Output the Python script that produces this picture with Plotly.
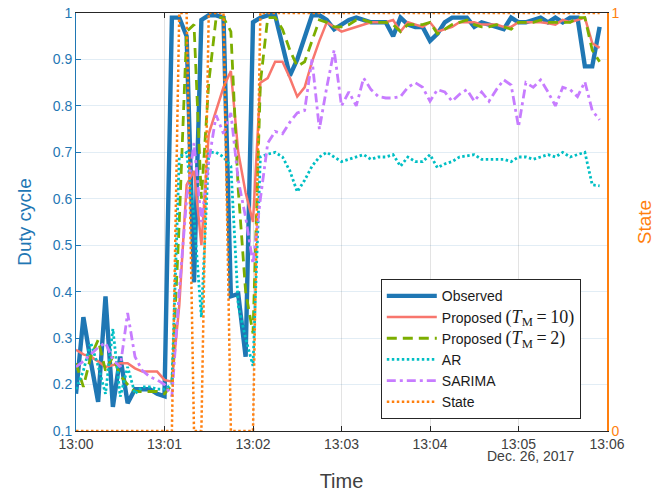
import pandas as pd
import plotly.graph_objects as go

# 5-second samples from 13:00:00 (Dec. 26, 2017)
times = pd.date_range("2017-12-26 13:00:00", periods=72, freq="5s")

observed = [0.18, 0.345, 0.25, 0.163, 0.39, 0.152, 0.26, 0.16, 0.19, 0.19, 0.19, 0.18, 0.175,
            0.99, 0.99, 0.95, 0.42, 0.985, 0.995, 0.995, 0.99, 0.39, 0.395, 0.26, 0.98, 0.99,
            0.995, 0.995, 0.93, 0.865, 0.9, 0.95, 0.995, 0.995, 0.985, 0.965, 0.975, 0.985,
            0.99, 0.985, 0.98, 0.98, 0.98, 0.95, 0.99, 0.975, 0.97, 0.97, 0.94, 0.955, 0.98,
            0.99, 0.99, 0.99, 0.97, 0.98, 0.975, 0.97, 0.965, 0.99, 0.98, 0.98, 0.985, 0.99,
            0.98, 0.99, 0.98, 0.99, 0.99, 0.885, 0.885, 0.97]

proposed_10 = [0.275, 0.265, 0.26, 0.25, 0.238, 0.242, 0.246, 0.246, 0.235, 0.228, 0.228, 0.228, 0.21,
               0.206, 0.37, 0.63, 0.66, 0.5, 0.74, 0.79, 0.84, 0.875, 0.7, 0.613, 0.55, 0.85,
               0.86, 0.895, 0.895, 0.86, 0.82, 0.84, 0.895, 0.94, 0.98, 0.97, 0.96, 0.965,
               0.97, 0.975, 0.98, 0.98, 0.98, 0.985, 0.96, 0.98, 0.975, 0.97, 0.98, 0.96, 0.965,
               0.97, 0.98, 0.98, 0.98, 0.975, 0.975, 0.975, 0.97, 0.97, 0.98, 0.98, 0.98, 0.98,
               0.978, 0.975, 0.985, 0.98, 0.985, 0.99, 0.935, 0.925]

proposed_2 = [0.246, 0.195, 0.26, 0.296, 0.23, 0.26, 0.22, 0.2, 0.185, 0.185, 0.185, 0.185, 0.18,
              0.2, 0.55, 0.96, 0.975, 0.6, 0.85, 0.99, 0.99, 0.96, 0.62, 0.4, 0.31, 0.85,
              0.99, 0.99, 0.965, 0.92, 0.885, 0.895, 0.94, 0.985, 0.98, 0.97, 0.97, 0.975,
              0.985, 0.985, 0.98, 0.98, 0.98, 0.975, 0.96, 0.975, 0.975, 0.975, 0.98, 0.955,
              0.965, 0.975, 0.98, 0.985, 0.975, 0.97, 0.97, 0.975, 0.97, 0.965, 0.98, 0.98,
              0.98, 0.985, 0.98, 0.98, 0.98, 0.98, 0.99, 0.99, 0.92, 0.895]

ar = [0.19, 0.23, 0.29, 0.24, 0.18, 0.32, 0.174, 0.238, 0.18, 0.195, 0.195, 0.19, 0.19,
      0.2, 0.69, 0.7, 0.56, 0.345, 0.7, 0.7, 0.69, 0.67, 0.37, 0.3, 0.24, 0.69,
      0.696, 0.7, 0.69, 0.66, 0.615, 0.64, 0.67, 0.69, 0.7, 0.69, 0.68, 0.685, 0.69,
      0.695, 0.685, 0.69, 0.69, 0.695, 0.67, 0.69, 0.68, 0.68, 0.695, 0.667, 0.675,
      0.68, 0.69, 0.692, 0.695, 0.685, 0.685, 0.685, 0.685, 0.68, 0.69, 0.69, 0.685,
      0.69, 0.695, 0.69, 0.7, 0.69, 0.695, 0.7, 0.63, 0.628]

sarima = [0.238, 0.25, 0.265, 0.28, 0.29, 0.253, 0.238, 0.354, 0.26, 0.23, 0.217, 0.21, 0.2,
          0.175, 0.4, 0.6, 0.72, 0.55, 0.68, 0.78, 0.74, 0.785, 0.64, 0.56, 0.46, 0.6,
          0.72, 0.745, 0.74, 0.765, 0.785, 0.79, 0.9, 0.75, 0.84, 0.92, 0.8, 0.83, 0.8,
          0.86, 0.835, 0.82, 0.817, 0.817, 0.82, 0.84, 0.85, 0.84, 0.81, 0.835, 0.83,
          0.81, 0.825, 0.835, 0.81, 0.83, 0.81, 0.835, 0.856, 0.845, 0.755, 0.85, 0.84,
          0.856, 0.83, 0.8, 0.84, 0.835, 0.82, 0.852, 0.79, 0.77]

state = [0, 0, 0, 0, 0, 0, 0, 0, 0, 0, 0, 0, 0, 0,
         1, 1, 0, 0, 1, 1, 1, 0, 0, 0, 0,
         1, 1, 1, 1, 1, 1, 1, 1, 1, 1, 1, 1, 1, 1, 1, 1, 1, 1, 1, 1, 1, 1, 1, 1,
         1, 1, 1, 1, 1, 1, 1, 1, 1, 1, 1, 1, 1, 1, 1, 1, 1, 1, 1, 1, 1, 1, 1]

y_ticks = [0.1, 0.2, 0.3, 0.4, 0.5, 0.6, 0.7, 0.8, 0.9, 1.0]
y_ticktext = ["0.1", "0.2", "0.3", "0.4", "0.5", "0.6", "0.7", "0.8", "0.9", "1"]

BLUE = "#1f77b4"
SALMON = "#F8766D"
GREEN = "#7CAE00"
CYAN = "#00BFC4"
PURPLE = "#C77CFF"
ORANGE = "#FF7F0E"
FONT = "Liberation Sans, Arial, sans-serif"
SERIF = "font-family:Liberation Serif;font-size:18px"
EQ = "\u2009=\u2009"

fig = go.Figure()
fig.add_trace(go.Scatter(x=times, y=observed, mode="lines", name="Observed",
                         line=dict(color=BLUE, width=4.4)))
fig.add_trace(go.Scatter(x=times, y=proposed_10, mode="lines",
                         name=f"Proposed <span style='{SERIF}'>(<i>T</i><sub>M</sub>{EQ}10)</span>",
                         line=dict(color=SALMON, width=2.5)))
fig.add_trace(go.Scatter(x=times, y=proposed_2, mode="lines",
                         name=f"Proposed <span style='{SERIF}'>(<i>T</i><sub>M</sub>{EQ}2)</span>",
                         line=dict(color=GREEN, width=2.8, dash="10px,6px")))
fig.add_trace(go.Scatter(x=times, y=ar, mode="lines", name="AR",
                         line=dict(color=CYAN, width=2.8, dash="2.5px,2.5px")))
fig.add_trace(go.Scatter(x=times, y=sarima, mode="lines", name="SARIMA",
                         line=dict(color=PURPLE, width=2.8, dash="9px,4px,3px,4px")))
fig.add_trace(go.Scatter(x=times, y=state, mode="lines", name="State", yaxis="y2",
                         line=dict(color=ORANGE, width=2.5, dash="2.5px,2.5px")))

# the page body adds an 8 px offset, so margins are shifted to compensate
fig.update_layout(
    width=667, height=492,
    margin=dict(l=68, r=68, t=5, b=69),
    plot_bgcolor="white", paper_bgcolor="white",
    font=dict(family=FONT, size=14, color="#404040"),
    xaxis=dict(
        type="date", automargin=False,
        range=["2017-12-26 13:00:00", "2017-12-26 13:06:00"],
        tickformat="%H:%M", dtick=60000, tick0="2017-12-26 13:00:00",
        ticks="inside", ticklen=5, tickcolor="#262626", ticklabelstandoff=0,
        ticklabeloverflow="allow",
        showline=True, linecolor="#262626", linewidth=1, mirror="ticks",
        showgrid=True, gridcolor="#e3e3e3", gridwidth=1,
        tickfont=dict(size=14, color="#404040"),
        title=dict(text="Time", font=dict(size=20, color="#404040"), standoff=23),
    ),
    yaxis=dict(
        automargin=False, ticklabeloverflow="allow",
        range=[0.1, 1.0], tickvals=y_ticks, ticktext=y_ticktext,
        ticks="inside", ticklen=5, tickcolor=BLUE,
        showline=True, linecolor=BLUE, linewidth=1,
        showgrid=True, gridcolor="rgba(31,119,180,0.13)", zeroline=False,
        tickfont=dict(size=14, color=BLUE),
        title=dict(text="Duty cycle", font=dict(size=19, color=BLUE), standoff=16),
    ),
    yaxis2=dict(
        automargin=False, ticklabeloverflow="allow",
        overlaying="y", side="right", range=[0, 1], tickvals=[0, 1], ticktext=["0", "1"],
        ticks="inside", ticklen=5, tickcolor=ORANGE,
        showline=True, linecolor=ORANGE, linewidth=1.5,
        showgrid=False, zeroline=False,
        tickfont=dict(size=14, color=ORANGE),
        title=dict(text="State", font=dict(size=19, color=ORANGE), standoff=19),
    ),
    legend=dict(
        x=0.574, y=0.363, xanchor="left", yanchor="top",
        bgcolor="white", bordercolor="#262626", borderwidth=1,
        font=dict(size=14, color="#1a1a1a"), tracegroupgap=0, itemwidth=50,
    ),
    showlegend=True,
    annotations=[dict(text="Dec. 26, 2017", x=0.855, y=-0.06, xref="paper", yref="paper",
                      xanchor="center", yanchor="middle", showarrow=False,
                      font=dict(size=14, color="#404040"))],
)

fig.write_html("out.html")
